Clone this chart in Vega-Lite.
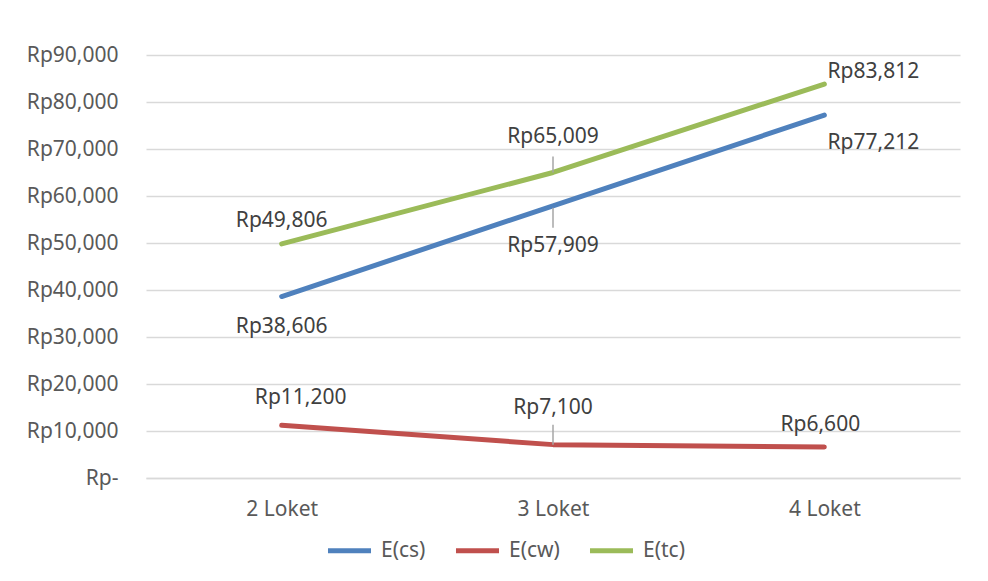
{
  "$schema": "https://vega.github.io/schema/vega-lite/v6.json",
  "width": 814,
  "height": 423,
  "autosize": {"type": "none"},
  "padding": {"left": 146, "top": 55, "right": 28, "bottom": 103},
  "background": "white",
  "config": {
    "view": {"stroke": null},
    "font": "Noto Sans",
    "text": {"font": "Noto Sans", "fontSize": 21, "color": "#404040"}
  },
  "data": {
    "values": [
      {"loket": "2 Loket", "series": "E(cs)", "value": 38606},
      {"loket": "3 Loket", "series": "E(cs)", "value": 57909},
      {"loket": "4 Loket", "series": "E(cs)", "value": 77212},
      {"loket": "2 Loket", "series": "E(cw)", "value": 11200},
      {"loket": "3 Loket", "series": "E(cw)", "value": 7100},
      {"loket": "4 Loket", "series": "E(cw)", "value": 6600},
      {"loket": "2 Loket", "series": "E(tc)", "value": 49806},
      {"loket": "3 Loket", "series": "E(tc)", "value": 65009},
      {"loket": "4 Loket", "series": "E(tc)", "value": 83812}
    ]
  },
  "transform": [
    {"calculate": "'Rp' + format(datum.value, ',')", "as": "label"},
    {"calculate": "datum.series + '|' + datum.loket", "as": "key"}
  ],
  "encoding": {
    "x": {
      "field": "loket", "type": "nominal",
      "scale": {"type": "point", "padding": 0.5},
      "axis": {
        "title": null, "labelAngle": 0, "ticks": false,
        "domainColor": "#D9D9D9", "domainWidth": 1.5,
        "labelFont": "Noto Sans", "labelFontSize": 21, "labelColor": "#595959",
        "labelPadding": 20
      }
    },
    "y": {
      "field": "value", "type": "quantitative",
      "scale": {"domain": [0, 90000], "nice": false},
      "axis": {
        "title": null, "values": [0,10000,20000,30000,40000,50000,60000,70000,80000,90000],
        "ticks": false, "domain": false, "labelOverlap": false,
        "gridColor": "#D9D9D9", "gridWidth": 1.5,
        "labelFont": "Noto Sans", "labelFontSize": 21, "labelColor": "#595959",
        "labelPadding": 28,
        "labelExpr": "datum.value == 0 ? 'Rp-' : 'Rp' + format(datum.value, ',')"
      }
    }
  },
  "layer": [
    {
      "mark": {"type": "line", "strokeWidth": 5, "strokeCap": "round", "strokeJoin": "round"},
      "encoding": {
        "color": {
          "field": "series", "type": "nominal",
          "scale": {"domain": ["E(cs)", "E(cw)", "E(tc)"], "range": ["#4F81BD", "#C0504D", "#9BBB59"]},
          "legend": {
            "title": null, "orient": "none", "legendX": 179, "legendY": 471,
            "direction": "horizontal", "columns": 3,
            "symbolType": "stroke", "symbolSize": 1850, "symbolStrokeWidth": 5,
            "labelFont": "Noto Sans", "labelFontSize": 21, "labelColor": "#595959",
            "labelOffset": 7, "columnPadding": 19
          }
        }
      }
    },
    {
      "transform": [{"filter": "datum.key == 'E(tc)|3 Loket'"}],
      "mark": {"type": "rule", "color": "#A6A6A6", "strokeWidth": 1.5, "y2Offset": -16},
      "encoding": {"y2": {"field": "value"}}
    },
    {
      "transform": [{"filter": "datum.key == 'E(cs)|3 Loket'"}],
      "mark": {"type": "rule", "color": "#A6A6A6", "strokeWidth": 1.5, "yOffset": 2, "y2Offset": 22},
      "encoding": {"y2": {"field": "value"}}
    },
    {
      "transform": [{"filter": "datum.key == 'E(cw)|3 Loket'"}],
      "mark": {"type": "rule", "color": "#A6A6A6", "strokeWidth": 1.5, "y2Offset": -20},
      "encoding": {"y2": {"field": "value"}}
    },
    {
      "transform": [{"filter": "datum.key == 'E(cs)|2 Loket'"}],
      "mark": {"type": "text", "dy": 30},
      "encoding": {"text": {"field": "label"}}
    },
    {
      "transform": [{"filter": "datum.key == 'E(cs)|3 Loket'"}],
      "mark": {"type": "text", "dy": 40},
      "encoding": {"text": {"field": "label"}}
    },
    {
      "transform": [{"filter": "datum.key == 'E(cs)|4 Loket'"}],
      "mark": {"type": "text", "dx": 49, "dy": 28},
      "encoding": {"text": {"field": "label"}}
    },
    {
      "transform": [{"filter": "datum.key == 'E(tc)|2 Loket'"}],
      "mark": {"type": "text", "dy": -23},
      "encoding": {"text": {"field": "label"}}
    },
    {
      "transform": [{"filter": "datum.key == 'E(tc)|3 Loket'"}],
      "mark": {"type": "text", "dy": -35},
      "encoding": {"text": {"field": "label"}}
    },
    {
      "transform": [{"filter": "datum.key == 'E(tc)|4 Loket'"}],
      "mark": {"type": "text", "dx": 49, "dy": -12},
      "encoding": {"text": {"field": "label"}}
    },
    {
      "transform": [{"filter": "datum.key == 'E(cw)|2 Loket'"}],
      "mark": {"type": "text", "dx": 19, "dy": -27},
      "encoding": {"text": {"field": "label"}}
    },
    {
      "transform": [{"filter": "datum.key == 'E(cw)|3 Loket'"}],
      "mark": {"type": "text", "dy": -37},
      "encoding": {"text": {"field": "label"}}
    },
    {
      "transform": [{"filter": "datum.key == 'E(cw)|4 Loket'"}],
      "mark": {"type": "text", "dx": -4, "dy": -22},
      "encoding": {"text": {"field": "label"}}
    }
  ]
}
